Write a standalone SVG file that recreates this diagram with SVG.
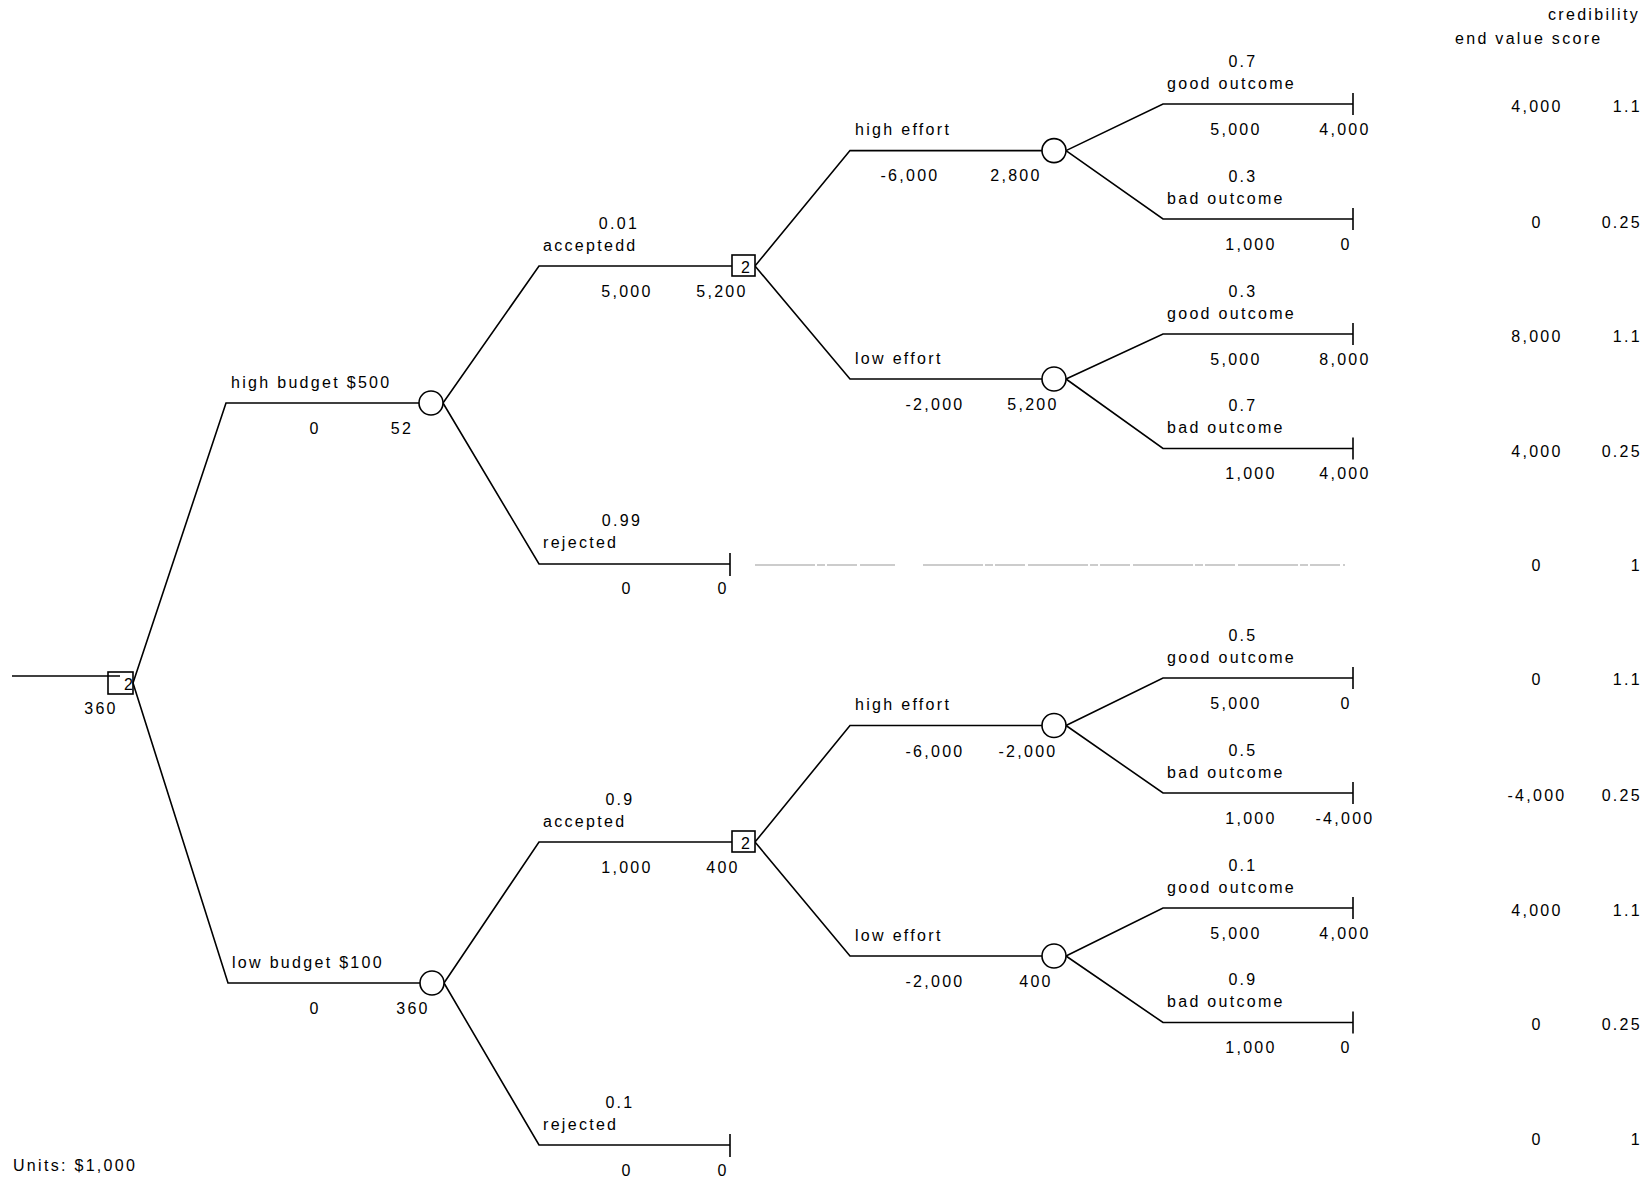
<svg xmlns="http://www.w3.org/2000/svg" width="1651" height="1177" viewBox="0 0 1651 1177">
<style>
text{font-family:"Liberation Sans",Arial,sans-serif;font-size:16px;fill:#000;letter-spacing:2.3px}
.m{text-anchor:middle}
.e{text-anchor:end}
.ln{fill:none;stroke:#000;stroke-width:1.6}
.nd{fill:#fff;stroke:#000;stroke-width:1.6}
.faint{fill:none;stroke:#9a9a9a;stroke-width:1.2;stroke-dasharray:60 2 8 2 30 3}
</style>
<rect width="1651" height="1177" fill="#fff"/>
<g id="connectors">
<line class="ln" x1="12" y1="676" x2="120" y2="676"/>
<polyline class="ln" points="133,683 226,403 420,403"/>
<polyline class="ln" points="133,683 228,983 420,983"/>
<polyline class="ln" points="443,403 539,266 732,266"/>
<polyline class="ln" points="443,403 539,564 730,564"/>
<polyline class="ln" points="444,983 539,842 732,842"/>
<polyline class="ln" points="444,983 539,1145 730,1145"/>
<polyline class="ln" points="755,266 850,150.6 1042,150.6"/>
<polyline class="ln" points="755,266 850,379 1042,379"/>
<polyline class="ln" points="755,842 850,725.5 1042,725.5"/>
<polyline class="ln" points="755,842 850,956 1042,956"/>
<polyline class="ln" points="1066,150.6 1163,104 1353,104"/>
<polyline class="ln" points="1066,150.6 1163,219 1353,219"/>
<polyline class="ln" points="1066,379 1163,334 1353,334"/>
<polyline class="ln" points="1066,379 1163,448.5 1353,448.5"/>
<polyline class="ln" points="1066,725.5 1163,678 1353,678"/>
<polyline class="ln" points="1066,725.5 1163,793 1353,793"/>
<polyline class="ln" points="1066,956 1163,908 1353,908"/>
<polyline class="ln" points="1066,956 1163,1022.5 1353,1022.5"/>
<line class="faint" x1="755" y1="565" x2="895" y2="565"/>
<line class="faint" x1="923" y1="565" x2="1345" y2="565"/>
</g>
<g id="root">
<rect class="nd" x="108" y="672" width="25" height="22" style="fill:none"/>
<text x="124" y="690" style="letter-spacing:0">2</text>
<text class="m" x="101" y="714">360</text>
</g>
<g id="high-budget">
<circle class="nd" cx="431" cy="403" r="12"/>
<text x="231" y="388">high budget $500</text>
<text class="m" x="315" y="434">0</text>
<text class="m" x="402" y="434">52</text>
</g>
<g id="low-budget">
<circle class="nd" cx="432" cy="983" r="12"/>
<text x="232" y="968">low budget $100</text>
<text class="m" x="315" y="1014">0</text>
<text class="m" x="413" y="1014">360</text>
</g>
<g id="accepted-high">
<rect class="nd" x="732" y="255" width="23" height="21"/>
<text x="741" y="273" style="letter-spacing:0">2</text>
<text class="m" x="619" y="229">0.01</text>
<text x="543" y="251">acceptedd</text>
<text class="m" x="627" y="297">5,000</text>
<text class="m" x="722" y="297">5,200</text>
</g>
<g id="rejected-high">
<line class="ln" x1="730" y1="553" x2="730" y2="576"/>
<text class="m" x="622" y="526">0.99</text>
<text x="543" y="548">rejected</text>
<text class="m" x="627" y="594">0</text>
<text class="m" x="723" y="594">0</text>
</g>
<g id="accepted-low">
<rect class="nd" x="732" y="831" width="23" height="21"/>
<text x="741" y="849" style="letter-spacing:0">2</text>
<text class="m" x="620" y="805">0.9</text>
<text x="543" y="827">accepted</text>
<text class="m" x="627" y="873">1,000</text>
<text class="m" x="723" y="873">400</text>
</g>
<g id="rejected-low">
<line class="ln" x1="730" y1="1134" x2="730" y2="1157"/>
<text class="m" x="620" y="1108">0.1</text>
<text x="543" y="1130">rejected</text>
<text class="m" x="627" y="1176">0</text>
<text class="m" x="723" y="1176">0</text>
</g>
<g id="high-effort-1">
<circle class="nd" cx="1054" cy="150.6" r="12"/>
<text x="855" y="135">high effort</text>
<text class="m" x="910" y="181">-6,000</text>
<text class="m" x="1016" y="181">2,800</text>
</g>
<g id="low-effort-1">
<circle class="nd" cx="1054" cy="379" r="12"/>
<text x="855" y="364">low effort</text>
<text class="m" x="935" y="410">-2,000</text>
<text class="m" x="1033" y="410">5,200</text>
</g>
<g id="high-effort-2">
<circle class="nd" cx="1054" cy="725.5" r="12"/>
<text x="855" y="710">high effort</text>
<text class="m" x="935" y="757">-6,000</text>
<text class="m" x="1028" y="757">-2,000</text>
</g>
<g id="low-effort-2">
<circle class="nd" cx="1054" cy="956" r="12"/>
<text x="855" y="941">low effort</text>
<text class="m" x="935" y="987">-2,000</text>
<text class="m" x="1036" y="987">400</text>
</g>
<g id="end-1">
<line class="ln" x1="1353" y1="93" x2="1353" y2="115"/>
<text class="m" x="1243" y="67">0.7</text>
<text x="1167" y="89">good outcome</text>
<text class="m" x="1236" y="135">5,000</text>
<text class="m" x="1345" y="135">4,000</text>
<text class="m" x="1537" y="112">4,000</text>
<text class="e" x="1642" y="112">1.1</text>
</g>
<g id="end-2">
<line class="ln" x1="1353" y1="208" x2="1353" y2="230"/>
<text class="m" x="1243" y="182">0.3</text>
<text x="1167" y="204">bad outcome</text>
<text class="m" x="1251" y="250">1,000</text>
<text class="m" x="1346" y="250">0</text>
<text class="m" x="1537" y="228">0</text>
<text class="e" x="1642" y="228">0.25</text>
</g>
<g id="end-3">
<line class="ln" x1="1353" y1="323" x2="1353" y2="345"/>
<text class="m" x="1243" y="297">0.3</text>
<text x="1167" y="319">good outcome</text>
<text class="m" x="1236" y="365">5,000</text>
<text class="m" x="1345" y="365">8,000</text>
<text class="m" x="1537" y="342">8,000</text>
<text class="e" x="1642" y="342">1.1</text>
</g>
<g id="end-4">
<line class="ln" x1="1353" y1="437.5" x2="1353" y2="459.5"/>
<text class="m" x="1243" y="411">0.7</text>
<text x="1167" y="433">bad outcome</text>
<text class="m" x="1251" y="479">1,000</text>
<text class="m" x="1345" y="479">4,000</text>
<text class="m" x="1537" y="457">4,000</text>
<text class="e" x="1642" y="457">0.25</text>
</g>
<g id="end-5">
<text class="m" x="1537" y="571">0</text>
<text class="e" x="1642" y="571">1</text>
</g>
<g id="end-6">
<line class="ln" x1="1353" y1="667" x2="1353" y2="689"/>
<text class="m" x="1243" y="641">0.5</text>
<text x="1167" y="663">good outcome</text>
<text class="m" x="1236" y="709">5,000</text>
<text class="m" x="1346" y="709">0</text>
<text class="m" x="1537" y="685">0</text>
<text class="e" x="1642" y="685">1.1</text>
</g>
<g id="end-7">
<line class="ln" x1="1353" y1="782" x2="1353" y2="804"/>
<text class="m" x="1243" y="756">0.5</text>
<text x="1167" y="778">bad outcome</text>
<text class="m" x="1251" y="824">1,000</text>
<text class="m" x="1345" y="824">-4,000</text>
<text class="m" x="1537" y="801">-4,000</text>
<text class="e" x="1642" y="801">0.25</text>
</g>
<g id="end-8">
<line class="ln" x1="1353" y1="897" x2="1353" y2="919"/>
<text class="m" x="1243" y="871">0.1</text>
<text x="1167" y="893">good outcome</text>
<text class="m" x="1236" y="939">5,000</text>
<text class="m" x="1345" y="939">4,000</text>
<text class="m" x="1537" y="916">4,000</text>
<text class="e" x="1642" y="916">1.1</text>
</g>
<g id="end-9">
<line class="ln" x1="1353" y1="1011.5" x2="1353" y2="1033.5"/>
<text class="m" x="1243" y="985">0.9</text>
<text x="1167" y="1007">bad outcome</text>
<text class="m" x="1251" y="1053">1,000</text>
<text class="m" x="1346" y="1053">0</text>
<text class="m" x="1537" y="1030">0</text>
<text class="e" x="1642" y="1030">0.25</text>
</g>
<g id="end-10">
<text class="m" x="1537" y="1145">0</text>
<text class="e" x="1642" y="1145">1</text>
</g>
<g id="header">
<text class="e" x="1640" y="20">credibility</text>
<text x="1455" y="44">end value score</text>
<text x="13" y="1171">Units: $1,000</text>
</g>
</svg>
